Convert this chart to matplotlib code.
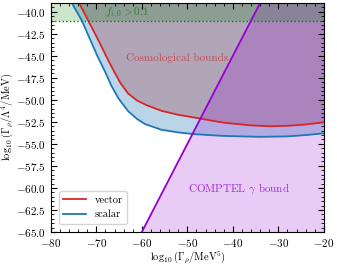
import numpy as np
import matplotlib
matplotlib.use("Agg")
import matplotlib.pyplot as plt
from matplotlib.ticker import MultipleLocator, FuncFormatter

plt.rcParams['font.family'] = 'serif'
plt.rcParams['font.serif'] = ['cmr10']
plt.rcParams['mathtext.fontset'] = 'cm'
plt.rcParams['axes.formatter.use_mathtext'] = True
plt.rcParams['font.size'] = 8

# cotas cosmologicas (log10 Gamma_rho, log10 Gamma/Lambda^4)
vector_x = [-74.8, -73.8, -71.5, -69.5, -67.8, -66.3, -64.7, -63.0, -61.0, -59.0,
            -55.7, -52.0, -47.5, -42.0, -36.0, -32.0, -28.0, -24.0, -20.0]
vector_y = [-38.0, -39.0, -41.3, -43.3, -45.1, -46.6, -48.1, -49.3, -50.1, -50.6,
            -51.25, -51.7, -52.1, -52.6, -52.9, -53.0, -52.95, -52.8, -52.55]
scalar_x = [-76.4, -75.4, -73.2, -71.5, -69.8, -68.1, -66.7, -65.2, -63.0, -61.0,
            -59.3, -55.7, -52.0, -48.4, -42.0, -34.0, -28.0, -24.0, -20.0]
scalar_y = [-38.0, -39.0, -41.0, -43.0, -45.0, -46.8, -48.4, -49.8, -51.3, -52.2,
            -52.75, -53.4, -53.7, -53.9, -54.1, -54.2, -54.15, -54.0, -53.8]

# cota COMPTEL (recta)
comptel_x = [-80.0, -20.0]
comptel_y = [-85.0, -25.0]

# abundancia f_{i,0} > 0.1
f_lim = -41.0

fig, ax = plt.subplots(figsize=(3.37, 2.66), dpi=100)
fig.subplots_adjust(left=0.151, right=0.961, top=0.989, bottom=0.128)

top = -30.0
ax.fill_between(scalar_x, scalar_y, top, color='C0', alpha=0.3, lw=0)
ax.fill_between(vector_x, vector_y, top, color='#9b364b', alpha=0.3, lw=0)
ax.fill_between(comptel_x, comptel_y, -90, color='darkviolet', alpha=0.2, lw=0)
ax.fill_between([-80, -20], f_lim, top, color='green', alpha=0.2, lw=0)

ax.plot(vector_x, vector_y, color='C3', lw=1.3, label='vector')
ax.plot(scalar_x, scalar_y, color='C0', lw=1.3, label='scalar')
ax.plot(comptel_x, comptel_y, color='darkviolet', lw=1.3)
ax.axhline(f_lim, color='green', ls=':', lw=1.0)

ax.text(-63.3, -40.2, r'$f_{i,0} > 0.1$', color='#2e7d2e',
        ha='center', va='center', fontsize=8)
ax.text(-52.3, -45.2, 'Cosmological bounds', color='#c84a55',
        ha='center', va='center', fontsize=8)
ax.text(-38.7, -60.1, r'COMPTEL $\gamma$ bound', color='#a030d0',
        ha='center', va='center', fontsize=8)

ax.set_xlim(-80, -20)
ax.set_ylim(-65, -39)
ax.xaxis.set_major_locator(MultipleLocator(10))
ax.xaxis.set_minor_locator(MultipleLocator(2))
ax.yaxis.set_major_locator(MultipleLocator(2.5))
ax.yaxis.set_minor_locator(MultipleLocator(0.5))
ax.yaxis.set_major_formatter(FuncFormatter(
    lambda v, p: r'$%.1f$' % v if v >= 0 else r'$-%.1f$' % (-v)))
ax.xaxis.set_major_formatter(FuncFormatter(
    lambda v, p: r'$%d$' % v if v >= 0 else r'$-%d$' % (-v)))
ax.tick_params(which='both', direction='in', top=True, right=True)
ax.tick_params(which='major', length=4)
ax.tick_params(which='minor', length=2)

ax.set_xlabel(r'$\log_{10}(\Gamma_\rho/\mathrm{MeV}^5)$', fontsize=7.5, labelpad=0)
ax.set_ylabel(r'$\log_{10}(\Gamma_\rho/\Lambda^4/\mathrm{MeV})$', fontsize=7.5)
ax.yaxis.set_label_coords(-0.13, 0.5)

ax.legend(loc='lower left', fontsize=7.5, handlelength=2.2, borderaxespad=0.8)

plt.savefig('out.png', dpi=100)
